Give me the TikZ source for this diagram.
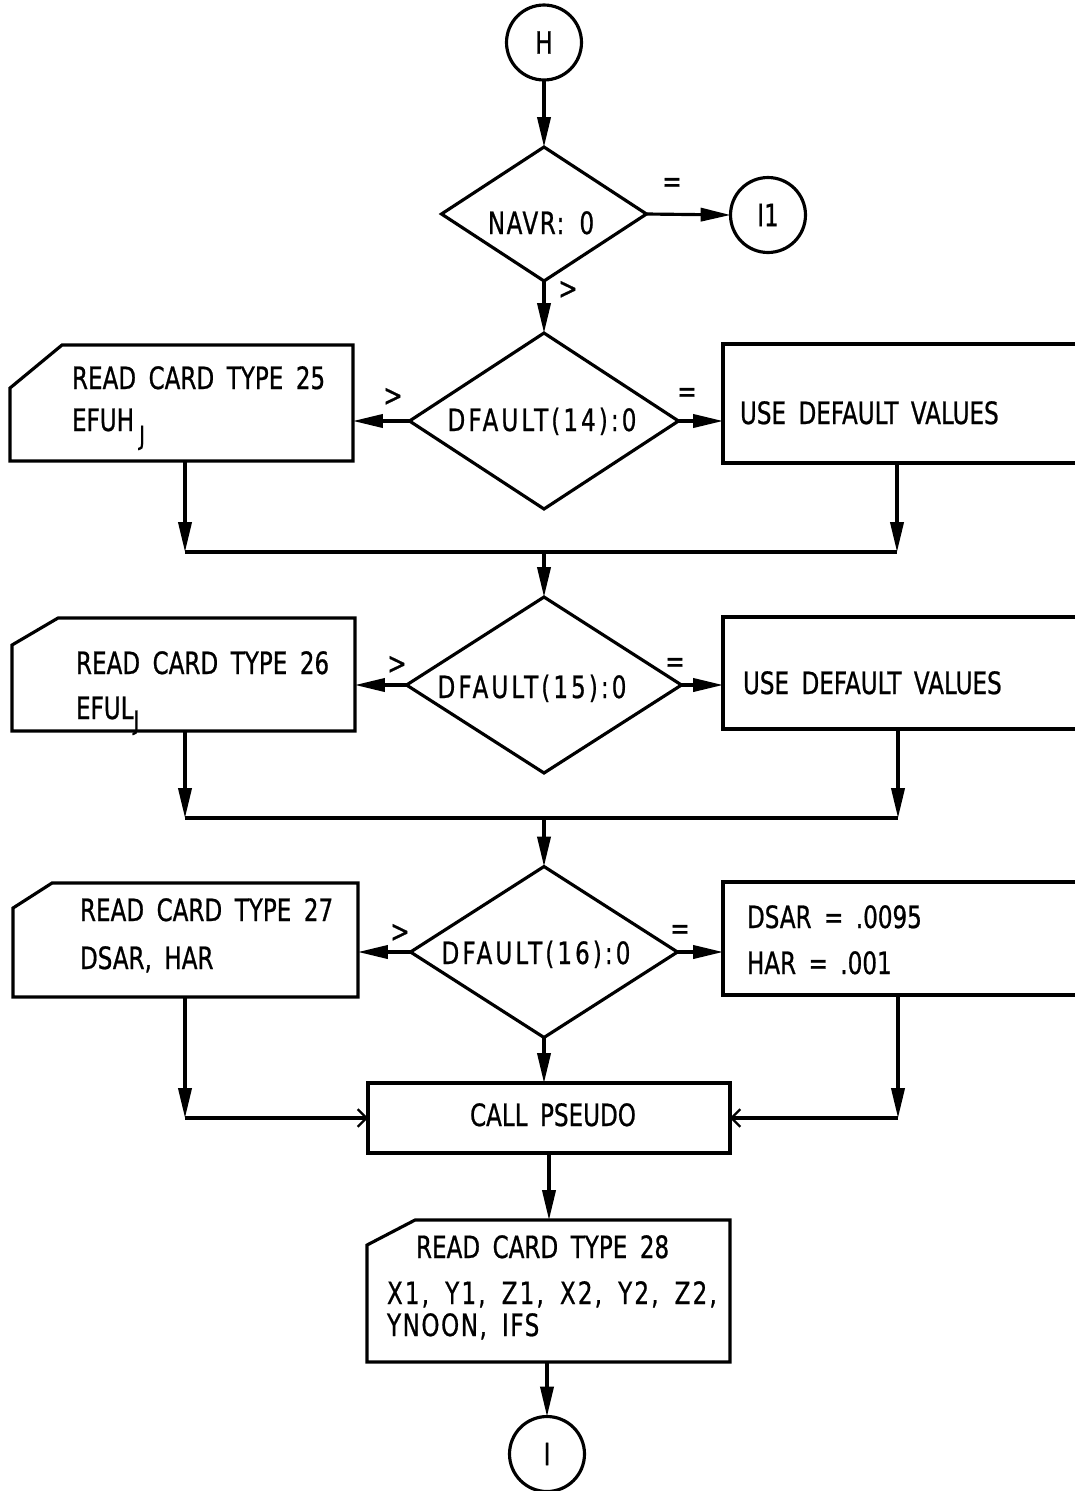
\documentclass[tikz,border=0pt]{standalone}
\usepackage{fontspec}
\setmainfont{DejaVu Sans}[FakeStretch=0.75, WordSpace=1.7, FakeBold=0.7]
\usetikzlibrary{arrows.meta,shapes.geometric,calc}

\begin{document}
\begin{tikzpicture}[x=0.02cm,y=-0.02cm,
  every node/.style={inner sep=0pt, outer sep=0pt},
  ln/.style={line width=1.8pt, line cap=butt, line join=miter},
  flow/.style={ln, -{Triangle[length=17pt,width=7.5pt]}},
  mergearrow/.style={ln, -{Straight Barb[length=5pt,width=10pt,line width=1.3pt]}},
  txt/.style={font=\fontsize{17.5}{20}\selectfont, anchor=base west},
  ctxt/.style={font=\fontsize{17.5}{20}\selectfont, anchor=base},
  wide/.style={font=\fontsize{17.5}{20}\selectfont\addfontfeature{LetterSpace=#1}},
  brlabel/.style={font=\fontsize{17.5}{20}\selectfont, anchor=center},
  conn/.style={circle, draw, ln, minimum size=1.5cm, font=\fontsize{17.5}{20}\selectfont},
  decision/.style={diamond, draw, ln},
  card/.style={rectangle, draw=none},
  procbox/.style={rectangle, draw=none},
]
\fill[white] (0,0) rectangle (1075,1491);
\useasboundingbox (0,0) rectangle (1075,1491);

% entry connector and first test
\node[conn] (h) at (544,42.5) {H};
\node[decision, minimum width=4.1cm, minimum height=2.68cm] (d1) at (544,214) {};
\node[ctxt, wide=5] (t1) at (541,234) {NAVR: 0};
\node[conn] (i1) at (768,215) {I1};
\node[brlabel] (e1) at (672,185) {=};
\node[brlabel] (g1) at (568,290) {>};
\draw[flow] (h.south) -- (d1.north);
\draw[flow] (d1.east) -- (i1.west);

% DFAULT(14)
\node[decision, minimum width=5.38cm, minimum height=3.52cm] (d2) at (544,421) {};
\node[ctxt, wide=10] (t2) at (542,431) {DFAULT(14):0};
\node[brlabel] (g2) at (393,397) {>};
\node[brlabel] (e2) at (687,395) {=};
\draw[flow] (d1.south) -- (d2.north);

\node[card, minimum width=6.86cm, minimum height=2.32cm] (rc25) at (181.5,403) {};
\draw[ln] (rc25.south west) -- ($(rc25.north west)+(0,43)$) -- ($(rc25.north west)+(52,0)$)
  -- (rc25.north east) -- (rc25.south east) -- cycle;
\node[txt] (t25a) at (72,389) {READ CARD TYPE 25};
\node[txt] (t25b) at (72,431) {EFUH\,\raisebox{-0.45em}{\fontsize{15}{15}\selectfont J}};

\node[procbox, minimum width=7.04cm, minimum height=2.38cm] (udv1) at (899,403.5) {};
\draw[ln] (udv1.north east) -- (udv1.north west) -- (udv1.south west) -- (udv1.south east);
\node[txt] (tu1) at (740,424) {USE DEFAULT VALUES};

\draw[flow] (d2.west) -- (d2.west -| rc25.east);
\draw[flow] (d2.east) -- (d2.east -| udv1.west);

\coordinate (m1l) at (185,552);
\coordinate (m1r) at (897,552);
\coordinate (m1c) at (544,552);
\draw[flow] (rc25.south -| m1l) -- (m1l);
\draw[flow] (udv1.south -| m1r) -- (m1r);
\draw[ln] (m1l) -- (m1r);

% DFAULT(15)
\node[decision, minimum width=5.5cm, minimum height=3.52cm] (d3) at (544,685) {};
\node[ctxt, wide=10] (t3) at (532,698) {DFAULT(15):0};
\node[brlabel] (g3) at (397,665) {>};
\node[brlabel] (e3) at (675,665) {=};
\draw[flow] (m1c) -- (d3.north);

\node[card, minimum width=6.86cm, minimum height=2.26cm] (rc26) at (183.5,674.5) {};
\draw[ln] (rc26.south west) -- ($(rc26.north west)+(0,27)$) -- ($(rc26.north west)+(46,0)$)
  -- (rc26.north east) -- (rc26.south east) -- cycle;
\node[txt] (t26a) at (76,674) {READ CARD TYPE 26};
\node[txt] (t26b) at (76,719) {EFUL\raisebox{-0.35em}{\fontsize{15}{15}\selectfont J}};

\node[procbox, minimum width=7.04cm, minimum height=2.24cm] (udv2) at (899,673) {};
\draw[ln] (udv2.north east) -- (udv2.north west) -- (udv2.south west) -- (udv2.south east);
\node[txt] (tu2) at (743,694) {USE DEFAULT VALUES};

\draw[flow] (d3.west) -- (d3.west -| rc26.east);
\draw[flow] (d3.east) -- (d3.east -| udv2.west);

\coordinate (m2l) at (185,818);
\coordinate (m2r) at (898,818);
\coordinate (m2c) at (544,818);
\draw[flow] (rc26.south -| m2l) -- (m2l);
\draw[flow] (udv2.south -| m2r) -- (m2r);
\draw[ln] (m2l) -- (m2r);

% DFAULT(16)
\node[decision, minimum width=5.34cm, minimum height=3.42cm] (d4) at (544,952) {};
\node[ctxt, wide=10] (t4) at (536,964) {DFAULT(16):0};
\node[brlabel] (g4) at (400,933) {>};
\node[brlabel] (e4) at (680,932) {=};
\draw[flow] (m2c) -- (d4.north);

\node[card, minimum width=6.9cm, minimum height=2.28cm] (rc27) at (185.5,940) {};
\draw[ln] (rc27.south west) -- ($(rc27.north west)+(0,25)$) -- ($(rc27.north west)+(39,0)$)
  -- (rc27.north east) -- (rc27.south east) -- cycle;
\node[txt] (t27a) at (80,921) {READ CARD TYPE 27};
\node[txt] (t27b) at (80,969) {DSAR, HAR};

\node[procbox, minimum width=7.04cm, minimum height=2.26cm] (dsar) at (899,938.5) {};
\draw[ln] (dsar.north east) -- (dsar.north west) -- (dsar.south west) -- (dsar.south east);
\node[txt] (td1) at (747,928) {DSAR = .0095};
\node[txt] (td2) at (747,974) {HAR = .001};

\draw[flow] (d4.west) -- (d4.west -| rc27.east);
\draw[flow] (d4.east) -- (d4.east -| dsar.west);

% CALL PSEUDO
\node[rectangle, draw, ln, minimum width=7.24cm, minimum height=1.4cm] (call) at (549,1118) {};
\node[ctxt] (tc) at (553,1126) {CALL PSEUDO};
\draw[flow] (d4.south) -- (d4.south |- call.north);

\coordinate (c27) at (185,1118);
\coordinate (cds) at (898,1118);
\draw[flow] (rc27.south -| c27) -- (c27);
\draw[mergearrow] (c27) -- (call.west);
\draw[flow] (dsar.south -| cds) -- (cds);
\draw[mergearrow] (cds) -- (call.east);

% READ CARD TYPE 28 and exit
\node[card, minimum width=7.26cm, minimum height=2.84cm] (rc28) at (548.5,1291) {};
\draw[ln] (rc28.south west) -- ($(rc28.north west)+(0,25)$) -- ($(rc28.north west)+(48,0)$)
  -- (rc28.north east) -- (rc28.south east) -- cycle;
\node[txt] (t28a) at (416,1258) {READ CARD TYPE 28};
\node[txt, wide=7] (t28b) at (387,1304) {X1, Y1, Z1, X2, Y2, Z2,};
\node[txt, wide=5] (t28c) at (387,1336) {YNOON, IFS};
\draw[flow] (call.south) -- (call.south |- rc28.north);

\node[conn] (iend) at (547,1454) {I};
\draw[flow] (rc28.south -| iend) -- (iend.north);
\end{tikzpicture}
\end{document}
